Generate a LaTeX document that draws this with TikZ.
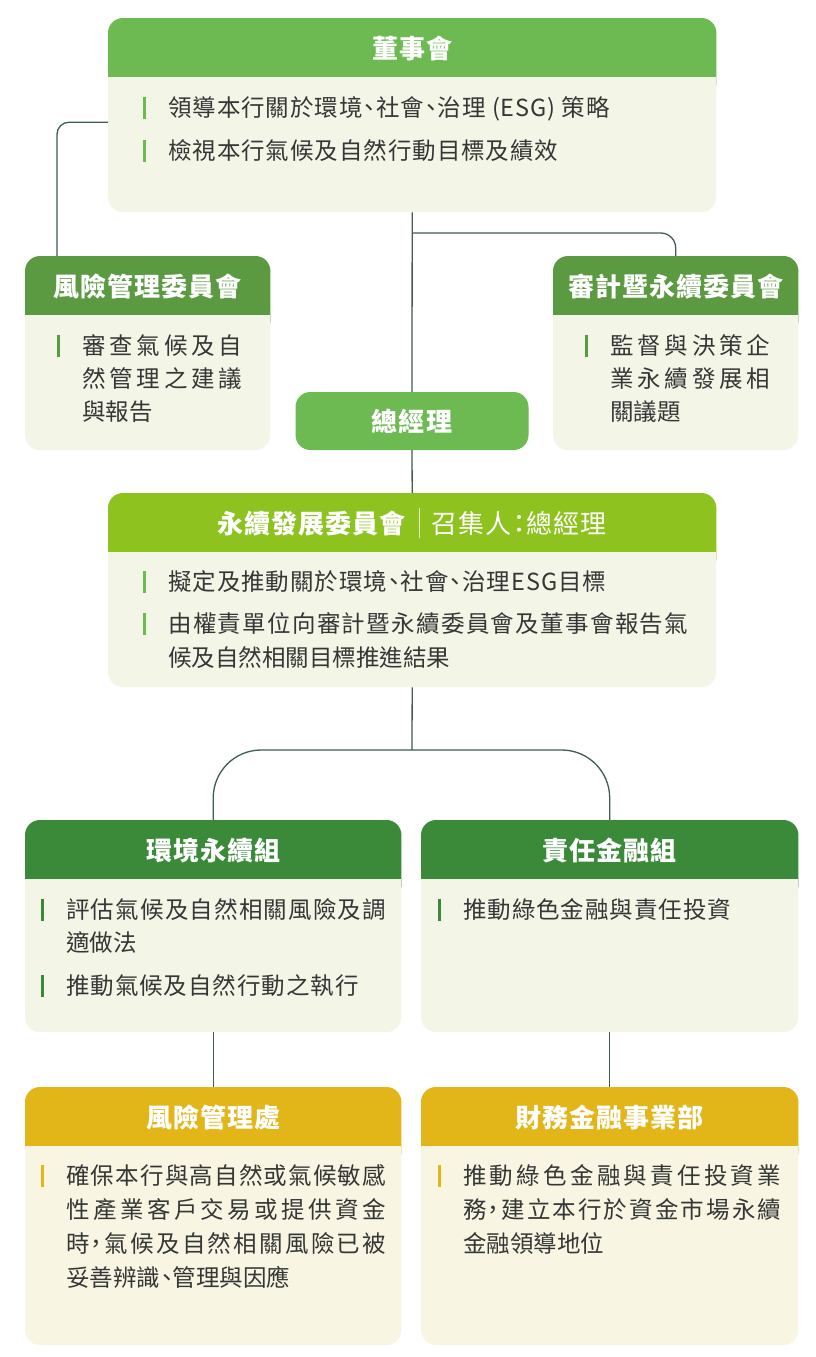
\documentclass[tikz,border=0pt]{standalone}
\usepackage{fontspec}
\setmainfont[RawFeature=+palt,LetterSpace=4]{Noto Sans CJK TC}
\XeTeXlinebreaklocale "zh"
\XeTeXlinebreakskip=0pt plus 10pt
\usepackage{xcolor}

\definecolor{hdA}{HTML}{6DB952}
\definecolor{hdB}{HTML}{5B9A40}
\definecolor{hdC}{HTML}{8DC21F}
\definecolor{hdD}{HTML}{3B8A3A}
\definecolor{hdE}{HTML}{E2B519}
\definecolor{bodyA}{HTML}{F3F6E7}
\definecolor{bodyB}{HTML}{F8F6E2}
\definecolor{linkc}{HTML}{3F5D50}
\definecolor{txt}{HTML}{363636}

\tikzset{
  bodybox/.style={rounded corners=15pt, inner sep=0pt, anchor=north west},
  gmbox/.style={fill=hdA, rounded corners=15pt, inner sep=0pt, minimum width=233pt, minimum height=58pt},
  headtext/.style={text=white, font=\fontsize{26}{30}\selectfont\bfseries, anchor=base, inner sep=0pt},
  item/.style={text=txt, font=\fontsize{23.5}{34}\selectfont, anchor=north west, inner sep=0pt},
  link/.style={draw=linkc, line width=1.3pt},
}

\newcommand{\bul}[1]{\noindent\llap{\textcolor{#1}{\rule[-0.12em]{2.8pt}{0.95em}}\hspace{22pt}}}

\newcommand{\orgbox}[8]{%
  \node[bodybox, fill=#7, minimum width=#4pt, minimum height=#5pt] (#1) at (#2,#3) {};
  \fill[#6, rounded corners=15pt] (#1.north west) rectangle ([yshift=-80pt]#1.north east);
  \fill[#7] ([yshift=-59pt]#1.north west) rectangle ([yshift=-86pt]#1.north east);
  \node[headtext] (#1-h) at ([yshift=-40pt]#1.north) {#8};
}

\begin{document}
\begin{tikzpicture}[x=1pt,y=-1pt]
\fill[white] (0,0) rectangle (816,1357);

% boxes
\orgbox{board}{108}{18}{608}{194}{hdA}{bodyA}{董事會}
\orgbox{riskc}{25}{256}{245}{194}{hdB}{bodyA}{風險管理委員會}
\orgbox{audit}{553}{256}{245}{194}{hdB}{bodyA}{審計暨永續委員會}
\node[gmbox] (gm) at (412,421) {};
\node[headtext] (gm-h) at ([yshift=-10pt]gm.center) {總經理};
\orgbox{sus}{108}{493}{608}{194}{hdC}{bodyA}{永續發展委員會\hspace{13pt}\textcolor{white!75!hdC}{\rule[-0.2em]{0.8pt}{1.15em}}\hspace{12pt}\mdseries 召集人：總經理}
\orgbox{env}{25}{820}{376}{212}{hdD}{bodyA}{環境永續組}
\orgbox{resp}{421}{820}{377}{212}{hdD}{bodyA}{責任金融組}
\orgbox{riskd}{25}{1087}{376}{258}{hdE}{bodyB}{風險管理處}
\orgbox{fin}{421}{1087}{377}{258}{hdE}{bodyB}{財務金融事業部}

% items
\node[item] (board-a) at (168,96) {\bul{hdA}領導本行關於環境、社會、治理 (ESG) 策略};
\node[item] (board-b) at (168,139) {\bul{hdA}檢視本行氣候及自然行動目標及績效};
\node[item, text width=160pt, align=justify, font=\fontsize{23.5}{33}\selectfont] (riskc-a) at (82,334)
  {\bul{hdB}審查氣候及自\linebreak 然管理之建議\linebreak 與報告};
\node[item, text width=160pt, align=justify, font=\fontsize{23.5}{33}\selectfont] (audit-a) at (610,334)
  {\bul{hdB}監督與決策企\linebreak 業永續發展相\linebreak 關議題};
\node[item] (sus-a) at (168,570) {\bul{hdA}擬定及推動關於環境、社會、治理ESG目標};
\node[item, text width=520pt, align=justify] (sus-b) at (168,612)
  {\bul{hdA}由權責單位向審計暨永續委員會及董事會報告氣\linebreak 候及自然相關目標推進結果};
\node[item, text width=320pt, align=justify, font=\fontsize{23.5}{33}\selectfont] (env-a) at (66,898)
  {\bul{hdD}評估氣候及自然相關風險及調\linebreak 適做法};
\node[item] (env-b) at (66,974) {\bul{hdD}推動氣候及自然行動之執行};
\node[item] (resp-a) at (463,898) {\bul{hdD}推動綠色金融與責任投資};
\node[item, text width=320pt, align=justify] (riskd-a) at (66,1164)
  {\bul{hdE}確保本行與高自然或氣候敏感\linebreak 性產業客戶交易或提供資金\linebreak 時，氣候及自然相關風險已被\linebreak 妥善辨識、管理與因應};
\node[item, text width=318pt, align=justify] (fin-a) at (463,1164)
  {\bul{hdE}推動綠色金融與責任投資業\linebreak 務，建立本行於資金市場永續\linebreak 金融領導地位};

% links
\coordinate (j1) at (412,233);
\coordinate (j2) at (412,750);
\draw[link] (board.south) -- (gm.north);
\draw[link, rounded corners=15pt] (j1) -| (audit.north);
\draw[link, rounded corners=12pt] ([yshift=-7pt]board.west) -| ([xshift=32pt]riskc.north west);
\draw[link] (gm.south) -- (sus.north);
\draw[link] (sus.south) -- (j2);
\draw[link, rounded corners=48pt] (j2) -| (env.north);
\draw[link, rounded corners=48pt] (j2) -| (resp.north);
\draw[link] (env.south) -- (riskd.north);
\draw[link] (resp.south) -- (fin.north);
\end{tikzpicture}
\end{document}
